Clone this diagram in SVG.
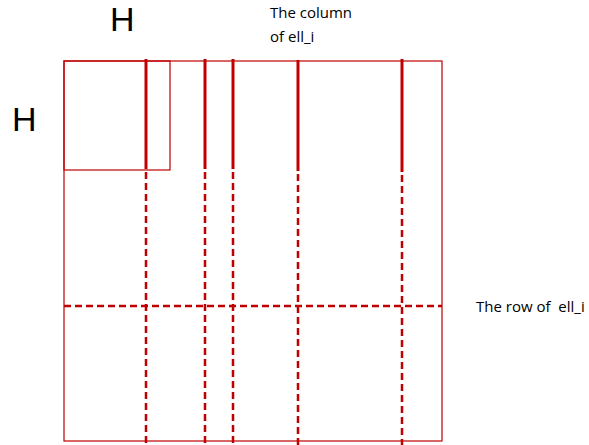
<svg xmlns="http://www.w3.org/2000/svg" width="589" height="445" viewBox="0 0 589 445">
<style>
.box{fill:none;stroke:#c00000;stroke-width:1.2}
.solid{stroke:#c00000;stroke-width:3}
.dash{stroke:#c00000;stroke-width:2.5;stroke-dasharray:7,4}
.big{font-family:"Liberation Sans",Arial,sans-serif;font-size:34px;fill:#000}
.lbl{font-family:"Open Sans","Liberation Sans",sans-serif;font-size:15px;fill:#000;white-space:pre}
</style>
<rect width="589" height="445" fill="#fff"/>
<g id="outer"><rect class="box" x="64" y="61" width="378" height="380"/></g>
<g id="block"><rect class="box" x="64" y="61" width="106" height="109"/></g>
<g id="connectors">
<line class="solid" x1="146" y1="59" x2="146" y2="169"/>
<line class="solid" x1="205" y1="59" x2="205" y2="169"/>
<line class="solid" x1="233" y1="59" x2="233" y2="169"/>
<line class="solid" x1="298" y1="60" x2="298" y2="171"/>
<line class="solid" x1="402" y1="59" x2="402" y2="172"/>
<line class="dash" x1="146" y1="172" x2="146" y2="445"/>
<line class="dash" x1="205" y1="172" x2="205" y2="445"/>
<line class="dash" x1="233" y1="172" x2="233" y2="445"/>
<line class="dash" x1="298" y1="174" x2="298" y2="445"/>
<line class="dash" x1="402" y1="175" x2="402" y2="445"/>
<line class="dash" x1="64" y1="306" x2="442" y2="306"/>
</g>
<g id="labels">
<text class="big" x="110" y="31">H</text>
<text class="big" x="12" y="131">H</text>
<text class="lbl" x="270" y="18">The column</text>
<text class="lbl" x="270" y="42">of ell_i</text>
<text class="lbl" x="476" y="312" xml:space="preserve">The row of  ell_i</text>
</g>
</svg>
